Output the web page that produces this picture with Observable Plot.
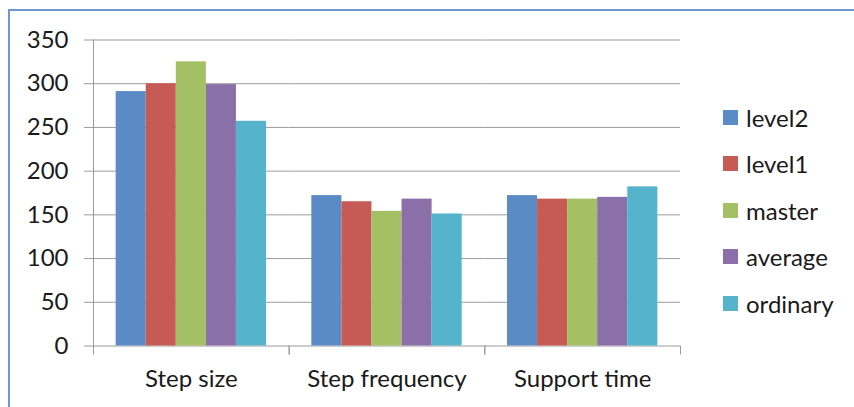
<!DOCTYPE html>
<html>
<head>
<meta charset="utf-8">
<script src="https://cdn.jsdelivr.net/npm/d3@7"></script>
<script src="https://cdn.jsdelivr.net/npm/@observablehq/plot@0.6"></script>
<style>
  html, body { margin: 0; padding: 0; background: #fff; }
  #chart { position: relative; width: 854px; height: 407px; overflow: hidden; background: #fff; font-family: Lato, sans-serif; }
  #border { position: absolute; left: 8px; top: 9px; right: -10px; bottom: -10px; border-top: 2px solid #6d98cf; border-left: 2px solid #6d98cf; pointer-events: none; }
  #plot { position: absolute; left: 0; top: 0; }
  #legend { position: absolute; left: 723px; top: 94px; }
  #legend .lg-swatch { height: 46.5px; padding-bottom: 0; }
  #legend .lg-swatch > svg { margin-right: 8px; }
  #legend .lg-swatch-label { color: #1a1a1a; }
</style>
</head>
<body>
<div id="chart">
  <div id="plot"></div>
  <div id="legend"></div>
  <div id="border"></div>
</div>
<script>
// Gait parameters by skill group
const categories = ["Step size", "Step frequency", "Support time"];
const seriesNames = ["level2", "level1", "master", "average", "ordinary"];
const level2 = [291, 172, 172];
const level1 = [300, 165, 168];
const master = [325, 154, 168];
const average = [299, 168, 170];
const ordinary = [257, 151, 182];
const yTicks = [0, 50, 100, 150, 200, 250, 300, 350];
const colors = ["#5b8bc6", "#c65b56", "#a4c064", "#8b6fa9", "#56b3cc"];

const seriesValues = [level2, level1, master, average, ordinary];
const rows = [];
categories.forEach((c, i) => {
  seriesNames.forEach((s, j) => rows.push({category: c, series: s, value: seriesValues[j][i]}));
});

const gridGray = "#9c9c9c";

const plot = Plot.plot({
  width: 854,
  height: 407,
  marginLeft: 93,
  marginRight: 174,
  marginTop: 39.5,
  marginBottom: 61.5,
  style: {fontFamily: "Lato, sans-serif", fontSize: "24px", color: "#1a1a1a", background: "transparent"},
  fx: {domain: categories, paddingInner: 0, paddingOuter: 0, round: false, label: null},
  x: {domain: seriesNames, paddingInner: 0, paddingOuter: 0.754, round: false, axis: null},
  y: {domain: [0, 350], label: null},
  color: {domain: seriesNames, range: colors},
  marks: [
    // horizontal gridlines, baseline included
    Plot.ruleY(yTicks, {stroke: gridGray, strokeWidth: 1}),
    // vertical axis line on the left
    Plot.frame({anchor: "left", facetAnchor: "left", stroke: gridGray}),
    // category boundary ticks below the baseline
    Plot.frame({anchor: "left", stroke: gridGray, insetTop: 306, insetBottom: -8}),
    Plot.frame({anchor: "right", stroke: gridGray, insetTop: 306, insetBottom: -8}),
    Plot.barY(rows, {fx: "category", x: "series", y: "value", fill: "series"}),
    Plot.axisY({ticks: yTicks, tickSize: 9, tickPadding: 16, stroke: gridGray, fill: "#1a1a1a", label: null, fontSize: 24}),
    Plot.axisFx({anchor: "bottom", tickSize: 0, tickPadding: 24, label: null, fontSize: 24, fill: "#1a1a1a"})
  ]
});
document.getElementById("plot").append(plot);

const legend = Plot.legend({
  color: {domain: seriesNames, range: colors},
  legend: "swatches",
  columns: 1,
  swatchSize: 15,
  className: "lg",
  style: {fontFamily: "Lato, sans-serif", fontSize: "24px"}
});
document.getElementById("legend").append(legend);
</script>
</body>
</html>
